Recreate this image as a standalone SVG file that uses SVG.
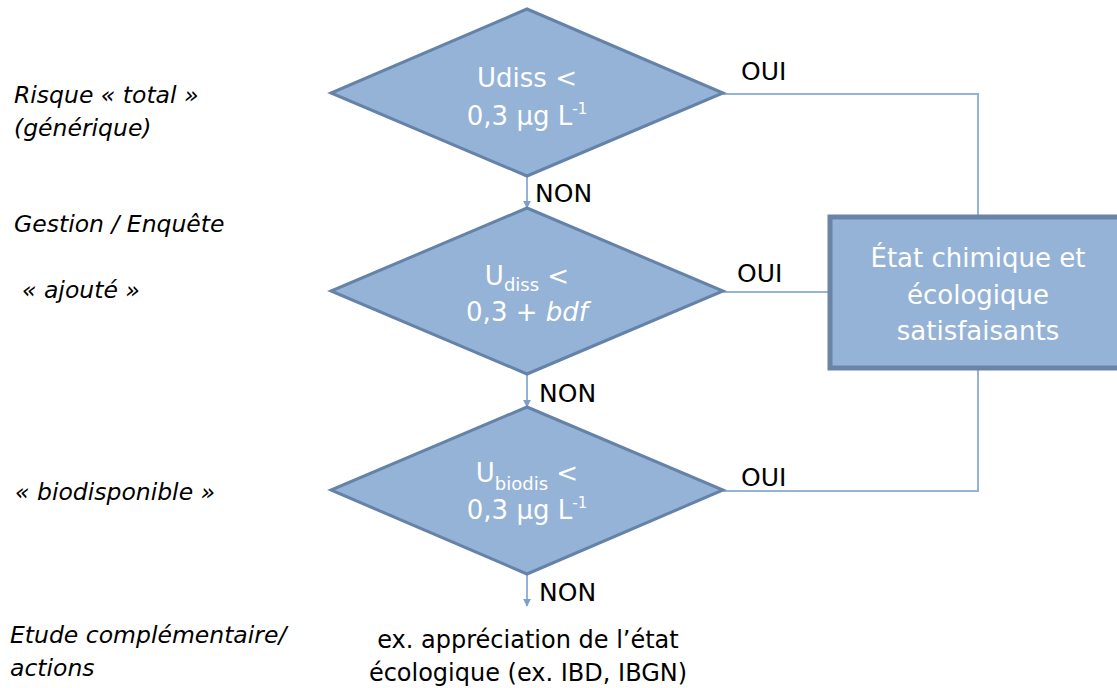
<svg xmlns="http://www.w3.org/2000/svg" width="1117" height="688" viewBox="0 0 1117 688">
<defs>
<style>
.dia{fill:#95b3d7;stroke:#6582a8;stroke-width:3}
.box{fill:#95b3d7;stroke:#6a84a8;stroke-width:5}
.con{fill:none;stroke:#95b3d7;stroke-width:2}
.wt{fill:#ffffff;font-family:"DejaVu Sans",sans-serif;font-size:26px;text-anchor:middle}
.lbl{fill:#000000;font-family:"DejaVu Sans",sans-serif;font-size:25px}
.side{fill:#000000;font-family:"DejaVu Sans",sans-serif;font-size:23.5px;font-style:italic}
.bot{fill:#000000;font-family:"DejaVu Sans",sans-serif;font-size:24px;text-anchor:middle}
</style>
<marker id="ah" viewBox="0 0 10 10" refX="9" refY="5" markerWidth="4" markerHeight="4" orient="auto" markerUnits="strokeWidth">
<path d="M0,0 L10,5 L0,10 Z" fill="#7f9fc8"/>
</marker>
</defs>
<rect width="1117" height="688" fill="#ffffff"/>
<g id="connectors">
<line class="con" x1="527" y1="177" x2="527" y2="208" marker-end="url(#ah)"/>
<line class="con" x1="527" y1="375" x2="527" y2="407" marker-end="url(#ah)"/>
<line class="con" x1="527" y1="575" x2="527" y2="606" marker-end="url(#ah)"/>
<polyline class="con" points="723,94 978,94 978,216"/>
<line class="con" x1="723" y1="292" x2="829" y2="292"/>
<polyline class="con" points="978,369 978,491 723,491"/>
<text class="lbl" x="535" y="202">NON</text>
<text class="lbl" x="539" y="402">NON</text>
<text class="lbl" x="539" y="601">NON</text>
<text class="lbl" x="741" y="80">OUI</text>
<text class="lbl" x="737" y="282">OUI</text>
<text class="lbl" x="741" y="486">OUI</text>
</g>
<g id="d1">
<polygon class="dia" points="527,9 723,93 527,176 331,93"/>
<text class="wt" x="527" y="87">Udiss &lt;</text>
<text class="wt" x="527" y="125">0,3 µg L<tspan font-size="15" dy="-11">-1</tspan></text>
</g>
<g id="d2">
<polygon class="dia" points="527,208 723,291 527,374 331,291"/>
<text class="wt" x="527" y="285">U<tspan font-size="18" dy="6">diss</tspan><tspan dy="-6"> &lt;</tspan></text>
<text class="wt" x="527" y="321">0,3 + <tspan font-style="italic">bdf</tspan></text>
</g>
<g id="d3">
<polygon class="dia" points="527,407 723,490 527,574 331,490"/>
<text class="wt" x="527" y="482">U<tspan font-size="18" dy="8">biodis</tspan><tspan dy="-8"> &lt;</tspan></text>
<text class="wt" x="527" y="519">0,3 µg L<tspan font-size="15" dy="-11">-1</tspan></text>
</g>
<g id="result">
<rect class="box" x="830" y="217" width="295" height="151"/>
<text class="wt" x="978" y="267" font-size="28">État chimique et</text>
<text class="wt" x="978" y="304" font-size="28">écologique</text>
<text class="wt" x="978" y="340" font-size="28">satisfaisants</text>
</g>
<g id="side-labels">
<text class="side" x="14" y="103">Risque « total »</text>
<text class="side" x="14" y="136">(générique)</text>
<text class="side" x="14" y="232">Gestion / Enquête</text>
<text class="side" x="22" y="298">« ajouté »</text>
<text class="side" x="15" y="500">« biodisponible »</text>
<text class="side" x="10" y="643">Etude complémentaire/</text>
<text class="side" x="10" y="676">actions</text>
</g>
<g id="outcome">
<text class="bot" x="528" y="648">ex. appréciation de l’état</text>
<text class="bot" x="528" y="681">écologique (ex. IBD, IBGN)</text>
</g>
</svg>
